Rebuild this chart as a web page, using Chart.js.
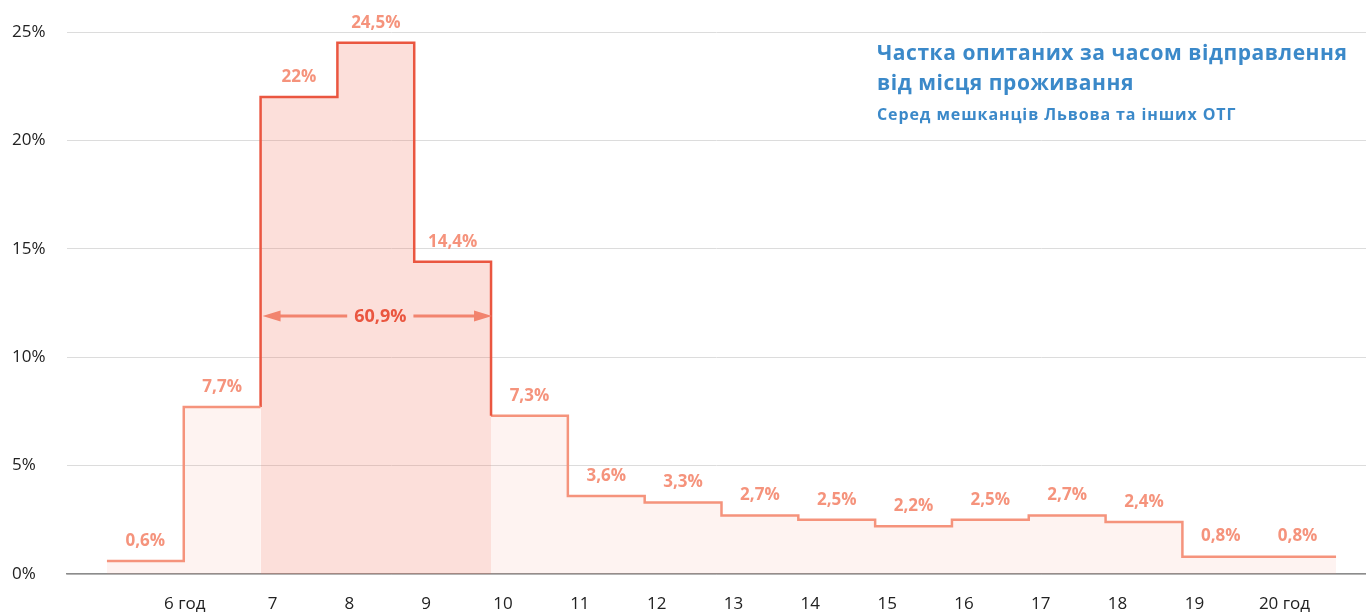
<!DOCTYPE html>
<html lang="uk">
<head>
<meta charset="utf-8">
<title>Частка опитаних за часом відправлення</title>
<script src="https://cdn.jsdelivr.net/npm/chart.js@4.4.1/dist/chart.umd.min.js"></script>
<style>
  html, body { margin: 0; padding: 0; background: #fff; }
  #wrap { position: relative; width: 1366px; height: 615px; }
  #title {
    position: absolute; left: 877px; top: 37px;
    font-family: "Open Sans", "Noto Sans", sans-serif; color: #3b89c9;
  }
  #title .t1 { font-size: 21px; font-weight: 700; line-height: 30px; letter-spacing: 0.55px; }
  #title .t2 { font-size: 16px; font-weight: 700; line-height: 22px; margin-top: 6px; letter-spacing: 0.9px; }
</style>
</head>
<body>
<div id="wrap">
  <canvas id="chart"></canvas>
  <div id="title">
    <div class="t1">Частка опитаних за часом відправлення<br>від місця проживання</div>
    <div class="t2">Серед мешканців Львова та інших ОТГ</div>
  </div>
</div>
<script>
// hour each bin starts at (bin 0 = before 6, last bin = after 20)
const binStart = [5, 6, 7, 8, 9, 10, 11, 12, 13, 14, 15, 16, 17, 18, 19, 20];
const shares = [0.6, 7.7, 22, 24.5, 14.4, 7.3, 3.6, 3.3, 2.7, 2.5, 2.2, 2.5, 2.7, 2.4, 0.8, 0.8];
const tickHours = [6, 7, 8, 9, 10, 11, 12, 13, 14, 15, 16, 17, 18, 19, 20];
const tickLabels = ['6 год', '7', '8', '9', '10', '11', '12', '13', '14', '15', '16', '17', '18', '19', '20 год'];
const yTicks = [0, 5, 10, 15, 20, 25];
const peakBins = [2, 3, 4];      // 7–10 год
const arrowLevel = 11.9;         // height of the 60,9% bracket

const SALMON = '#f5937c';
const RED = '#ea5640';
const FONT = '"Open Sans", "Noto Sans", sans-serif';

function fmt(v) {
  return String(v).replace('.', ',') + '%';
}

// step outline points for bins a..b
function steps(a, b) {
  const pts = [];
  for (let i = a; i <= b; i++) {
    pts.push({ x: binStart[i], y: shares[i] });
    pts.push({ x: binStart[i] + 1, y: shares[i] });
  }
  return pts;
}

const pFirst = peakBins[0];
const pLast = peakBins[peakBins.length - 1];
const lastBin = shares.length - 1;

const redLine = [{ x: binStart[pFirst], y: shares[pFirst - 1] }]
  .concat(steps(pFirst, pLast))
  .concat([{ x: binStart[pLast] + 1, y: shares[pLast + 1] }]);

const baseLine = { type: 'line', pointRadius: 0, tension: 0, borderJoinStyle: 'miter', borderCapStyle: 'butt' };

const datasets = [
  Object.assign({}, baseLine, { data: steps(0, pFirst - 1), borderColor: SALMON, borderWidth: 2.5, fill: false, order: 0 }),
  Object.assign({}, baseLine, { data: redLine, borderColor: RED, borderWidth: 2.5, fill: false, order: 0 }),
  Object.assign({}, baseLine, { data: steps(pLast + 1, lastBin), borderColor: SALMON, borderWidth: 2.5, fill: false, order: 0 }),
  Object.assign({}, baseLine, { data: steps(0, pFirst - 1), borderWidth: 0, fill: 'origin', backgroundColor: 'rgba(245,150,128,0.11)', order: 1 }),
  Object.assign({}, baseLine, { data: steps(pFirst, pLast), borderWidth: 0, fill: 'origin', backgroundColor: 'rgba(242,120,100,0.24)', order: 1 }),
  Object.assign({}, baseLine, { data: steps(pLast + 1, lastBin), borderWidth: 0, fill: 'origin', backgroundColor: 'rgba(245,150,128,0.11)', order: 1 })
];

// value labels above each step + 60,9% bracket
const labelsPlugin = {
  id: 'stepLabels',
  afterDatasetsDraw(chart) {
    const { ctx, scales: { x, y } } = chart;
    ctx.save();
    ctx.textAlign = 'center';
    ctx.textBaseline = 'middle';
    ctx.font = `700 17px ${FONT}`;
    ctx.fillStyle = SALMON;
    shares.forEach((v, i) => {
      const cx = x.getPixelForValue(binStart[i] + 0.5);
      const cy = y.getPixelForValue(v) - 20;
      ctx.fillText(fmt(v), cx, cy);
    });

    // bracket
    const total = peakBins.reduce((s, i) => s + shares[i], 0);
    const text = fmt(Math.round(total * 10) / 10);
    const x0 = x.getPixelForValue(binStart[pFirst]) + 2;
    const x1 = x.getPixelForValue(binStart[pLast] + 1) + 1;
    const ay = y.getPixelForValue(arrowLevel);
    const mid = (x0 + x1) / 2 + 3;
    ctx.font = `700 18px ${FONT}`;
    const tw = ctx.measureText(text).width;
    ctx.strokeStyle = '#f2846e';
    ctx.fillStyle = '#f2846e';
    ctx.lineWidth = 3;
    ctx.beginPath();
    ctx.moveTo(x0 + 10, ay); ctx.lineTo(mid - tw / 2 - 7, ay);
    ctx.moveTo(mid + tw / 2 + 7, ay); ctx.lineTo(x1 - 10, ay);
    ctx.stroke();
    ctx.beginPath();
    ctx.moveTo(x0, ay); ctx.lineTo(x0 + 18, ay - 5.5); ctx.lineTo(x0 + 18, ay + 5.5); ctx.closePath();
    ctx.moveTo(x1, ay); ctx.lineTo(x1 - 18, ay - 5.5); ctx.lineTo(x1 - 18, ay + 5.5); ctx.closePath();
    ctx.fill();
    ctx.fillStyle = RED;
    ctx.fillText(text, mid, ay + 1);
    ctx.restore();
  }
};

// the first and last labels sit a bit off the common offset in the original
function tickText(v) {
  const i = tickHours.indexOf(v);
  if (i === 0) return tickLabels[i] + '     ';
  if (i === tickHours.length - 1) return '      ' + tickLabels[i];
  return tickLabels[i];
}

new Chart(document.getElementById('chart').getContext('2d'), {
  data: { datasets },
  plugins: [labelsPlugin],
  options: {
    responsive: true,
    maintainAspectRatio: false,
    animation: false,
    layout: { padding: { top: 32, left: 12, right: 0, bottom: 0 } },
    plugins: { legend: { display: false }, tooltip: { enabled: false } },
    scales: {
      x: {
        type: 'linear',
        min: 4.48,
        max: 21.39,
        afterBuildTicks(scale) { scale.ticks = tickHours.map(h => ({ value: h })); },
        afterFit(scale) { scale.height = 41; },
        grid: { display: false, drawTicks: false },
        border: { display: true, color: '#8c8c8c', width: 1.5 },
        ticks: {
          padding: 20,
          labelOffset: 12,
          color: '#222',
          font: { family: FONT, size: 17 },
          callback: tickText
        }
      },
      y: {
        min: 0,
        max: 25,
        afterBuildTicks(scale) { scale.ticks = yTicks.map(v => ({ value: v })); },
        afterFit(scale) { scale.width = 55; },
        grid: { color: '#dcdcdc', lineWidth: 1, drawTicks: false },
        border: { display: false },
        ticks: {
          crossAlign: 'far',
          padding: 18,
          color: '#222',
          font: { family: FONT, size: 17 },
          callback: (v) => v + '%'
        }
      }
    }
  }
});
</script>
</body>
</html>
